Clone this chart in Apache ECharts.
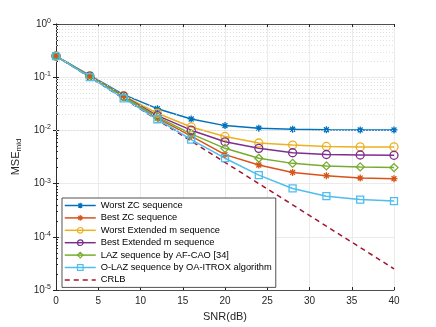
<!DOCTYPE html>
<html>
<head>
<meta charset="utf-8">
<script src="https://cdn.jsdelivr.net/npm/echarts@6/dist/echarts.min.js"></script>
<style>
  html, body { margin: 0; padding: 0; background: #fff; }
  #main { width: 436px; height: 327px; }
</style>
</head>
<body>
<div id="main"></div>
<script>
// SNR points (dB)
var snr = [0, 4, 8, 12, 16, 20, 24, 28, 32, 36, 40];
var worstZC  = [0.25, 0.108, 0.047, 0.0256, 0.0164, 0.0123, 0.0110, 0.0105, 0.0103, 0.0102, 0.0102];
var bestZC   = [0.25, 0.104, 0.042, 0.0170, 0.0078, 0.0035, 0.00224, 0.00162, 0.00141, 0.00127, 0.00124];
var worstExtM = [0.25, 0.106, 0.045, 0.0210, 0.0116, 0.0077, 0.0058, 0.0053, 0.0050, 0.0049, 0.0049];
var bestExtM = [0.25, 0.105, 0.044, 0.0190, 0.0101, 0.0061, 0.0046, 0.0038, 0.00352, 0.00345, 0.0034];
var lazAF    = [0.25, 0.104, 0.043, 0.0180, 0.0086, 0.0046, 0.0030, 0.0024, 0.00215, 0.00206, 0.0020];
var olaz     = [0.25, 0.100, 0.040, 0.0162, 0.0067, 0.0030, 0.00144, 0.00081, 0.00058, 0.00050, 0.00047];
var crlb     = [0.25, 0.100, 0.0398, 0.0158, 0.0063, 0.0025, 0.0010, 0.0004, 0.000158, 0.000063, 0.000025];

var names = ['Worst ZC sequence', 'Best ZC sequence', 'Worst Extended m sequence',
  'Best Extended m sequence', 'LAZ sequence by AF-CAO [34]', 'O-LAZ sequence by OA-ITROX algorithm', 'CRLB'];
var colors = ['#0072BD', '#D95319', '#EDB120', '#7E2F8E', '#77AC30', '#4DBEEE', '#A2142F'];

// minor grid positions 2..9 x 10^k
var minorVals = [];
for (var k = -5; k < 0; k++) {
  for (var m = 2; m <= 9; m++) minorVals.push(m * Math.pow(10, k));
}

var star = 'path://M5,0L5,10M0,5L10,5M1.5,1.5L8.5,8.5M8.5,1.5L1.5,8.5';
var axisCol = '#262626';
var font = 'Liberation Sans';

function pairs(arr) {
  return snr.map(function (x, i) { return [x, arr[i]]; });
}

function mk(name, data, color, symbol, size) {
  return {
    name: name,
    type: 'line',
    data: pairs(data),
    symbol: symbol,
    symbolSize: size,
    showAllSymbol: true,
    lineStyle: { color: color, width: 1.5 },
    itemStyle: { color: 'rgba(0,0,0,0)', borderColor: color, borderWidth: 1.3 },
    emphasis: { disabled: true },
    z: 3
  };
}

var chart = echarts.init(document.getElementById('main'));

chart.setOption({
  animation: false,
  backgroundColor: '#fff',
  textStyle: { fontFamily: font },
  grid: { left: 56, right: 42, top: 24, bottom: 36 },
  legend: {
    orient: 'vertical',
    left: 62,
    top: 198,
    padding: [3, 4, 3, 2],
    itemGap: 3.4,
    itemWidth: 31,
    itemHeight: 7,
    backgroundColor: '#fff',
    borderColor: axisCol,
    borderWidth: 0.8,
    borderRadius: 0,
    itemStyle: { color: 'rgba(0,0,0,0)', borderWidth: 1.2 },
    lineStyle: { width: 1.5 },
    textStyle: { fontSize: 9.3, color: '#000', fontFamily: font },
    data: names
  },
  xAxis: [{
    type: 'value',
    min: 0, max: 40, interval: 5,
    name: 'SNR(dB)',
    nameLocation: 'middle',
    nameGap: 21,
    nameTextStyle: { fontSize: 11, color: axisCol, fontFamily: font },
    axisLine: { lineStyle: { color: axisCol, width: 0.8 } },
    axisTick: { inside: true, length: 3, lineStyle: { color: axisCol } },
    axisLabel: { fontSize: 10, color: axisCol, margin: 6 },
    splitLine: { show: true, lineStyle: { color: '#e6e6e6', width: 0.8 } }
  }, {
    type: 'value', position: 'top',
    min: 0, max: 40, interval: 5,
    axisLine: { show: true, lineStyle: { color: axisCol, width: 0.8 } },
    axisTick: { show: true, inside: true, length: 3, lineStyle: { color: axisCol } },
    axisLabel: { show: false },
    splitLine: { show: false }
  }],
  yAxis: [{
    type: 'log',
    logBase: 10,
    min: 1e-5, max: 1,
    name: 'MSE{sub|mid}',
    nameLocation: 'middle',
    nameGap: 28,
    nameRotate: 90,
    nameTextStyle: {
      fontSize: 11, color: axisCol, fontFamily: font,
      rich: { sub: { fontSize: 8, color: axisCol, fontFamily: font, verticalAlign: 'bottom', padding: [5, 0, 0, 0] } }
    },
    axisLine: { show: true, lineStyle: { color: axisCol, width: 0.8 } },
    axisTick: { show: true, inside: true, length: 3, lineStyle: { color: axisCol } },
    minorTick: { show: true, splitNumber: 9, length: 2, lineStyle: { color: axisCol } },
    axisLabel: {
      fontSize: 10, color: axisCol, margin: 5,
      formatter: function (v) {
        var e = Math.round(Math.log10(v));
        return '10{sup|' + (e === 0 ? '0' : '-' + (-e)) + '}';
      },
      rich: { sup: { fontSize: 7, color: axisCol, verticalAlign: 'top', padding: [0, 0, 6, 0] } }
    },
    splitLine: { show: true, lineStyle: { color: '#e6e6e6', width: 0.8 } }
  }, {
    type: 'log',
    logBase: 10,
    min: 1e-5, max: 1,
    position: 'right',
    axisLine: { show: true, lineStyle: { color: axisCol, width: 0.8 } },
    axisTick: { show: true, inside: true, length: 3, lineStyle: { color: axisCol } },
    axisLabel: { show: false },
    splitLine: { show: false }
  }],
  series: [
    mk(names[0], worstZC, colors[0], star, 7),
    mk(names[1], bestZC, colors[1], star, 7),
    mk(names[2], worstExtM, colors[2], 'circle', 8),
    mk(names[3], bestExtM, colors[3], 'circle', 8),
    mk(names[4], lazAF, colors[4], 'diamond', 8),
    mk(names[5], olaz, colors[5], 'rect', 7),
    {
      name: names[6],
      type: 'line',
      data: pairs(crlb),
      symbol: 'circle',
      symbolSize: 0,
      lineStyle: { color: colors[6], width: 1.5, type: [5, 4] },
      itemStyle: { color: 'rgba(0,0,0,0)', borderColor: 'rgba(0,0,0,0)', borderWidth: 0 },
      emphasis: { disabled: true },
      z: 2
    },
    {
      name: 'minor',
      type: 'line',
      data: [],
      silent: true,
      markLine: {
        silent: true,
        symbol: 'none',
        label: { show: false },
        lineStyle: { color: '#d9d9d9', type: [1, 2], width: 0.8 },
        data: minorVals.map(function (v) { return { yAxis: v }; })
      },
      z: 1
    }
  ]
});
</script>
</body>
</html>
